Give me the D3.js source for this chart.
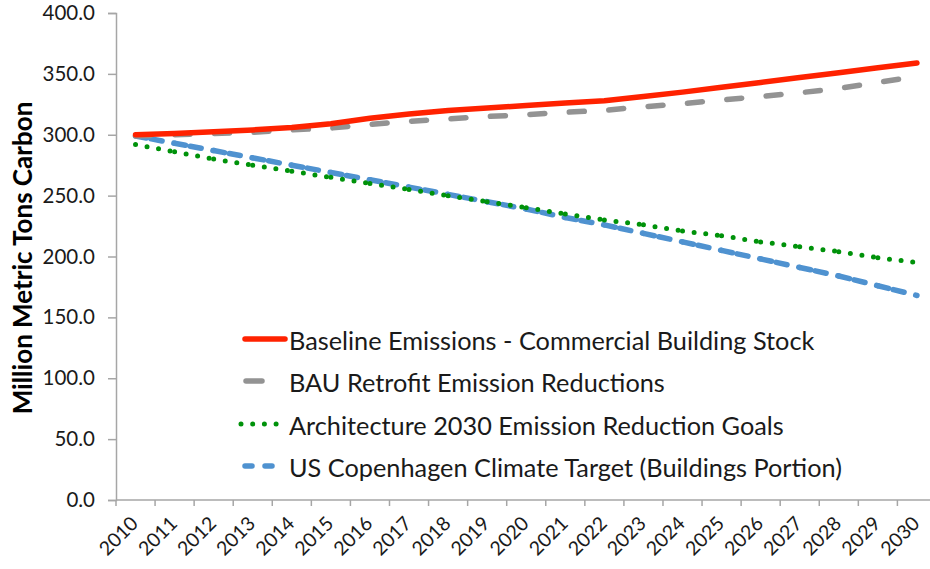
<!DOCTYPE html>
<html><head><meta charset="utf-8">
<script src="https://cdn.jsdelivr.net/npm/d3@7"></script>
<style>body{margin:0;background:#fff}svg{display:block}</style>
</head><body>
<svg id="c" width="930" height="569"></svg>
<script>
const years = d3.range(2010, 2031).map(String);
const baseline = [300,301,302.5,304,306,309,313.5,317,320,322,324,326,328,331.5,335,339,343,347,351,355,359];
const bauRetrofit = [299,300,301,302,304,305.5,308.5,311,313,315,316.5,318.5,320,323,325.5,328.5,331.5,334.5,338,343,348];
const arch2030 = [292,286,280,275,270,265,260,255,250,245,240,235,230,226,221,217,212,208,204,199,195];
const copenhagen = [299,293,287,281,275,269,263,257,251,245,239,232,226,219,212,205,198,191,184,176,168];
const yTicks = [0,50,100,150,200,250,300,350,400];
const seriesNames = ["Baseline Emissions - Commercial Building Stock","BAU Retrofit Emission Reductions","Architecture 2030 Emission Reduction Goals","US Copenhagen Climate Target (Buildings Portion)"];

const font = "Lato, 'Open Sans', sans-serif";
const svg = d3.select("#c");
const L = 116, T = 13, B = 500, R = 116 + 21*39.07;
const x = d3.scaleBand().domain(years).range([L, R]).padding(0);
const xc = d => x(d) + x.bandwidth()/2;
const y = d3.scaleLinear().domain([0,400]).range([B, T]);
const axisColor = "#a6a6a6";

// y axis
const ya = svg.append("g").attr("transform", `translate(${L},0)`)
  .call(d3.axisLeft(y).tickValues(yTicks).tickFormat(d3.format(".1f")).tickSize(8).tickPadding(13));
ya.select(".domain").attr("stroke", axisColor).attr("stroke-width", 1.5);
ya.selectAll(".tick line").attr("stroke", axisColor).attr("stroke-width", 1.5);
ya.selectAll("text").attr("font-family", font).attr("font-size", 20.5).attr("fill", "#1a1a1a");

// x axis
const xg = svg.append("g");
xg.append("line").attr("x1", L).attr("x2", R).attr("y1", B).attr("y2", B).attr("stroke", axisColor).attr("stroke-width", 1.5);
xg.selectAll("line.tk").data(years).join("line").attr("class","tk")
  .attr("x1", d => x(d)).attr("x2", d => x(d)).attr("y1", B).attr("y2", B + 6)
  .attr("stroke", axisColor).attr("stroke-width", 1.5);
xg.append("line").attr("x1", R).attr("x2", R).attr("y1", B).attr("y2", B+6).attr("stroke", axisColor).attr("stroke-width", 1.5);
xg.selectAll("text").data(years).join("text")
  .attr("transform", d => `translate(${xc(d)-1},${B+20}) rotate(-45)`)
  .attr("text-anchor", "end").attr("dy", "0.35em")
  .attr("font-family", font).attr("font-size", 19.5).attr("fill", "#1a1a1a")
  .text(d => d);

// y title
svg.append("text").attr("transform", `translate(32,258) rotate(-90)`)
  .attr("text-anchor", "middle").attr("font-family", font).attr("font-weight", "bold")
  .attr("font-size", 26).attr("fill", "#000").text("Million Metric Tons Carbon");

const line = d3.line().x((d,i) => xc(years[i])).y(d => y(d));
const styles = [
  {data: baseline, color: "#ff2200", dash: null, w: 5.5},
  {data: bauRetrofit, color: "#939393", dash: "15,24.5", w: 5.5},
  {data: arch2030, color: "#00920a", dash: "0,11.7", w: 5, seg: true},
  {data: copenhagen, color: "#4f92d0", dash: "11,5,11,12", w: 5.5, seg: true}
];
const order = [3,2,1,0];
order.forEach(k => {
  const s = styles[k];
  if (s.seg) {
    const segs = d3.range(s.data.length - 1).map(i => [i, i+1]);
    svg.append("g").selectAll("path").data(segs).join("path")
      .attr("d", p => d3.line().x(i => xc(years[i])).y(i => y(s.data[i]))(p))
      .attr("fill","none").attr("stroke", s.color).attr("stroke-width", s.w)
      .attr("stroke-linecap","round").attr("stroke-dasharray", s.dash);
  } else {
    svg.append("path").attr("d", line(s.data)).attr("fill","none")
      .attr("stroke", s.color).attr("stroke-width", s.w)
      .attr("stroke-linecap","round").attr("stroke-linejoin","round")
      .attr("stroke-dasharray", s.dash);
  }
});

// legend
const lg = svg.append("g");
const rowY = [341, 383, 426, 468];
seriesNames.forEach((n, i) => {
  const s = styles[i];
  const yy = rowY[i];
  let sx1 = 245, sx2 = 285, dash = s.dash;
  if (i === 1) { sx1 = 246; sx2 = 262; dash = null; }
  if (i === 2) { sx1 = 241; sx2 = 277; dash = "0,11.7"; }
  if (i === 3) { sx1 = 245; sx2 = 272; dash = "7,13"; }
  lg.append("line").attr("x1", sx1).attr("x2", sx2).attr("y1", yy-2).attr("y2", yy-2)
    .attr("stroke", s.color).attr("stroke-width", s.w).attr("stroke-linecap","round")
    .attr("stroke-dasharray", dash);
  lg.append("text").attr("x", 289).attr("y", yy).attr("dy","0.35em")
    .attr("font-family", font).attr("font-size", 25.3).attr("fill", "#1a1a1a").text(n);
});
</script>
</body></html>
